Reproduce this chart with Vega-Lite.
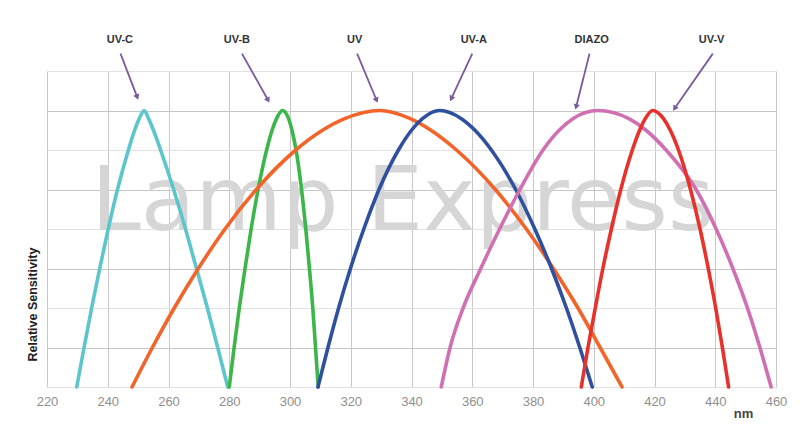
{
  "$schema": "https://vega.github.io/schema/vega-lite/v6.json",
  "width": 729,
  "height": 316,
  "autosize": {"type": "none"},
  "padding": {"left": 47, "top": 71, "right": 24, "bottom": 49},
  "background": "white",
  "config": {"view": {"stroke": null}},
  "datasets": {
    "curves": [
      {"series": "UV-C", "nm": 229.8, "s": 0}, {"series": "UV-C", "nm": 232.2, "s": 1}, {"series": "UV-C", "nm": 234.7, "s": 2}, {"series": "UV-C", "nm": 237.35, "s": 3}, {"series": "UV-C", "nm": 240.15, "s": 4}, {"series": "UV-C", "nm": 243.2, "s": 5}, {"series": "UV-C", "nm": 246.8, "s": 6}, {"series": "UV-C", "nm": 248.85, "s": 6.5}, {"series": "UV-C", "nm": 250.4, "s": 6.8}, {"series": "UV-C", "nm": 252, "s": 7}, {"series": "UV-C", "nm": 253.4, "s": 6.8}, {"series": "UV-C", "nm": 255.05, "s": 6.5}, {"series": "UV-C", "nm": 257.4, "s": 6}, {"series": "UV-C", "nm": 261.7, "s": 5}, {"series": "UV-C", "nm": 265.6, "s": 4}, {"series": "UV-C", "nm": 269.2, "s": 3}, {"series": "UV-C", "nm": 272.8, "s": 2}, {"series": "UV-C", "nm": 276.2, "s": 1}, {"series": "UV-C", "nm": 279.5, "s": 0},
      {"series": "UV-B", "nm": 280, "s": 0}, {"series": "UV-B", "nm": 281.6, "s": 1}, {"series": "UV-B", "nm": 283.3, "s": 2}, {"series": "UV-B", "nm": 285.2, "s": 3}, {"series": "UV-B", "nm": 287.2, "s": 4}, {"series": "UV-B", "nm": 289.5, "s": 5}, {"series": "UV-B", "nm": 292.3, "s": 6}, {"series": "UV-B", "nm": 294.1, "s": 6.5}, {"series": "UV-B", "nm": 295.6, "s": 6.8}, {"series": "UV-B", "nm": 297.5, "s": 7}, {"series": "UV-B", "nm": 299.5, "s": 6.8}, {"series": "UV-B", "nm": 300.65, "s": 6.5}, {"series": "UV-B", "nm": 302, "s": 6}, {"series": "UV-B", "nm": 303.8, "s": 5}, {"series": "UV-B", "nm": 305.2, "s": 4}, {"series": "UV-B", "nm": 306.4, "s": 3}, {"series": "UV-B", "nm": 307.5, "s": 2}, {"series": "UV-B", "nm": 308.4, "s": 1}, {"series": "UV-B", "nm": 309.3, "s": 0},
      {"series": "UV", "nm": 248, "s": 0}, {"series": "UV", "nm": 254.7, "s": 1}, {"series": "UV", "nm": 261.9, "s": 2}, {"series": "UV", "nm": 269.8, "s": 3}, {"series": "UV", "nm": 278.6, "s": 4}, {"series": "UV", "nm": 288.9, "s": 5}, {"series": "UV", "nm": 301.9, "s": 6}, {"series": "UV", "nm": 310.7, "s": 6.5}, {"series": "UV", "nm": 318.2, "s": 6.8}, {"series": "UV", "nm": 329.5, "s": 7}, {"series": "UV", "nm": 339.4, "s": 6.8}, {"series": "UV", "nm": 346.4, "s": 6.5}, {"series": "UV", "nm": 354.8, "s": 6}, {"series": "UV", "nm": 367.6, "s": 5}, {"series": "UV", "nm": 377.8, "s": 4}, {"series": "UV", "nm": 386.7, "s": 3}, {"series": "UV", "nm": 394.8, "s": 2}, {"series": "UV", "nm": 402.1, "s": 1}, {"series": "UV", "nm": 409.3, "s": 0},
      {"series": "UV-A", "nm": 309.2, "s": 0}, {"series": "UV-A", "nm": 312.5, "s": 1}, {"series": "UV-A", "nm": 316, "s": 2}, {"series": "UV-A", "nm": 319.9, "s": 3}, {"series": "UV-A", "nm": 324.3, "s": 4}, {"series": "UV-A", "nm": 329.3, "s": 5}, {"series": "UV-A", "nm": 335.7, "s": 6}, {"series": "UV-A", "nm": 340, "s": 6.5}, {"series": "UV-A", "nm": 343.7, "s": 6.8}, {"series": "UV-A", "nm": 349.3, "s": 7}, {"series": "UV-A", "nm": 356.3, "s": 6.8}, {"series": "UV-A", "nm": 360.9, "s": 6.5}, {"series": "UV-A", "nm": 366.3, "s": 6}, {"series": "UV-A", "nm": 374.3, "s": 5}, {"series": "UV-A", "nm": 380.6, "s": 4}, {"series": "UV-A", "nm": 386.1, "s": 3}, {"series": "UV-A", "nm": 391, "s": 2}, {"series": "UV-A", "nm": 395.4, "s": 1}, {"series": "UV-A", "nm": 399.5, "s": 0},
      {"series": "DIAZO", "nm": 349.8, "s": 0}, {"series": "DIAZO", "nm": 352.7, "s": 1}, {"series": "DIAZO", "nm": 357, "s": 2}, {"series": "DIAZO", "nm": 362.8, "s": 3}, {"series": "DIAZO", "nm": 369, "s": 4}, {"series": "DIAZO", "nm": 375.7, "s": 5}, {"series": "DIAZO", "nm": 383.3, "s": 6}, {"series": "DIAZO", "nm": 388.6, "s": 6.5}, {"series": "DIAZO", "nm": 393.25, "s": 6.8}, {"series": "DIAZO", "nm": 401.3, "s": 7}, {"series": "DIAZO", "nm": 411.4, "s": 6.8}, {"series": "DIAZO", "nm": 417.2, "s": 6.5}, {"series": "DIAZO", "nm": 423.8, "s": 6}, {"series": "DIAZO", "nm": 433.7, "s": 5}, {"series": "DIAZO", "nm": 440.3, "s": 4}, {"series": "DIAZO", "nm": 445.8, "s": 3}, {"series": "DIAZO", "nm": 450.6, "s": 2}, {"series": "DIAZO", "nm": 454.7, "s": 1}, {"series": "DIAZO", "nm": 458.4, "s": 0},
      {"series": "UV-V", "nm": 395.9, "s": 0}, {"series": "UV-V", "nm": 398.1, "s": 1}, {"series": "UV-V", "nm": 400.5, "s": 2}, {"series": "UV-V", "nm": 403, "s": 3}, {"series": "UV-V", "nm": 405.8, "s": 4}, {"series": "UV-V", "nm": 408.9, "s": 5}, {"series": "UV-V", "nm": 412.7, "s": 6}, {"series": "UV-V", "nm": 415.1, "s": 6.5}, {"series": "UV-V", "nm": 417, "s": 6.8}, {"series": "UV-V", "nm": 419.4, "s": 7}, {"series": "UV-V", "nm": 422.9, "s": 6.8}, {"series": "UV-V", "nm": 425.2, "s": 6.5}, {"series": "UV-V", "nm": 427.9, "s": 6}, {"series": "UV-V", "nm": 431.85, "s": 5}, {"series": "UV-V", "nm": 435, "s": 4}, {"series": "UV-V", "nm": 437.7, "s": 3}, {"series": "UV-V", "nm": 440.15, "s": 2}, {"series": "UV-V", "nm": 442.35, "s": 1}, {"series": "UV-V", "nm": 444.4, "s": 0}
    ],
    "labels": [
      {"label": "UV-C", "lx": 244, "ly": 8.78, "x1": 244.2, "y1": 8.44, "x2": 249.7, "y2": 7.34},
      {"label": "UV-B", "lx": 282.5, "ly": 8.78, "x1": 284.2, "y1": 8.44, "x2": 292.8, "y2": 7.26},
      {"label": "UV", "lx": 321.3, "ly": 8.78, "x1": 322.1, "y1": 8.44, "x2": 328.5, "y2": 7.26},
      {"label": "UV-A", "lx": 360.5, "ly": 8.78, "x1": 360.0, "y1": 8.44, "x2": 353.1, "y2": 7.30},
      {"label": "DIAZO", "lx": 399.3, "ly": 8.78, "x1": 398.6, "y1": 8.44, "x2": 394.2, "y2": 7.09},
      {"label": "UV-V", "lx": 438.8, "ly": 8.78, "x1": 439.2, "y1": 8.44, "x2": 426.6, "y2": 7.05}
    ],
    "watermark": [{"text": "Lamp Express", "nm": 337.1, "s": 3.97}]
  },
  "layer": [
    {
      "data": {"name": "watermark"},
      "mark": {"type": "text", "font": "DejaVu Sans", "fontSize": 89, "color": "#d6d6d6", "baseline": "alphabetic", "align": "center"},
      "encoding": {
        "x": {"field": "nm", "type": "quantitative", "scale": {"domain": [220, 460], "nice": false, "zero": false},
          "axis": {"values": [220, 240, 260, 280, 300, 320, 340, 360, 380, 400, 420, 440, 460], "tickCount": 40, "grid": true, "gridColor": "#c8c8c8", "gridWidth": 1, "domain": false, "ticks": false, "labelFlush": false, "labelOverlap": false, "labelColor": "#8f8f8f", "labelFont": "Liberation Sans", "labelFontSize": 13, "labelPadding": 8, "title": "nm", "titleFont": "Liberation Sans", "titleFontSize": 13, "titleFontWeight": "bold", "titleColor": "#444444", "titleX": 696, "titleY": 26, "titleBaseline": "middle", "titleAlign": "center"}},
        "y": {"field": "s", "type": "quantitative", "scale": {"domain": [0, 8], "nice": false},
          "axis": {"values": [0, 1, 2, 3, 4, 5, 6, 7, 8], "tickCount": 20, "labelOverlap": false, "grid": true, "gridColor": {"condition": {"test": "datum.value == 1 || datum.value == 3 || datum.value == 5 || datum.value == 7", "value": "#c6c6c6"}, "value": "#e2e2e2"}, "gridWidth": 1, "domain": false, "ticks": false, "labels": false, "title": "Relative Sensitivity", "titleFont": "Liberation Sans", "titleFontSize": 12.5, "titleFontWeight": "bold", "titleColor": "#222222", "titleX": -15, "titleY": 233, "titleAlign": "center", "titleBaseline": "middle"}},
        "text": {"field": "text", "type": "nominal"}
      }
    },
    {
      "data": {"name": "curves"},
      "mark": {"type": "line", "interpolate": "monotone", "strokeWidth": 3.6, "strokeCap": "round"},
      "encoding": {
        "x": {"field": "nm", "type": "quantitative"},
        "y": {"field": "s", "type": "quantitative"},
        "color": {"field": "series", "type": "nominal", "legend": null,
          "scale": {"domain": ["UV-C", "UV-B", "UV", "UV-A", "DIAZO", "UV-V"], "range": ["#5cc6cc", "#3cb64a", "#f2642a", "#2f4f9f", "#d070b2", "#e8312b"]}},
        "detail": {"field": "series", "type": "nominal"}
      }
    },
    {
      "mark": {"type": "rule", "color": "#111111", "strokeWidth": 3.5},
      "encoding": {"y": {"datum": 0}}
    },
    {
      "data": {"name": "labels"},
      "mark": {"type": "rule", "color": "#7a5a9c", "strokeWidth": 1.8},
      "encoding": {
        "x": {"field": "x1", "type": "quantitative"},
        "y": {"field": "y1", "type": "quantitative"},
        "x2": {"field": "x2"},
        "y2": {"field": "y2"}
      }
    },
    {
      "data": {"name": "labels"},
      "transform": [{"calculate": "atan2(-(datum.x2 - datum.x1) * 3.04, -(datum.y2 - datum.y1) * 39.5) * 180 / PI", "as": "ang"}],
      "mark": {"type": "point", "shape": "triangle-down", "filled": true, "color": "#7a5a9c", "size": 40, "opacity": 1},
      "encoding": {
        "x": {"field": "x2", "type": "quantitative"},
        "y": {"field": "y2", "type": "quantitative"},
        "angle": {"field": "ang", "type": "quantitative", "scale": null}
      }
    },
    {
      "data": {"name": "labels"},
      "mark": {"type": "text", "font": "Liberation Sans", "fontSize": 11, "fontWeight": "bold", "color": "#333333", "baseline": "middle", "align": "center"},
      "encoding": {
        "x": {"field": "lx", "type": "quantitative"},
        "y": {"field": "ly", "type": "quantitative"},
        "text": {"field": "label", "type": "nominal"}
      }
    }
  ]
}
